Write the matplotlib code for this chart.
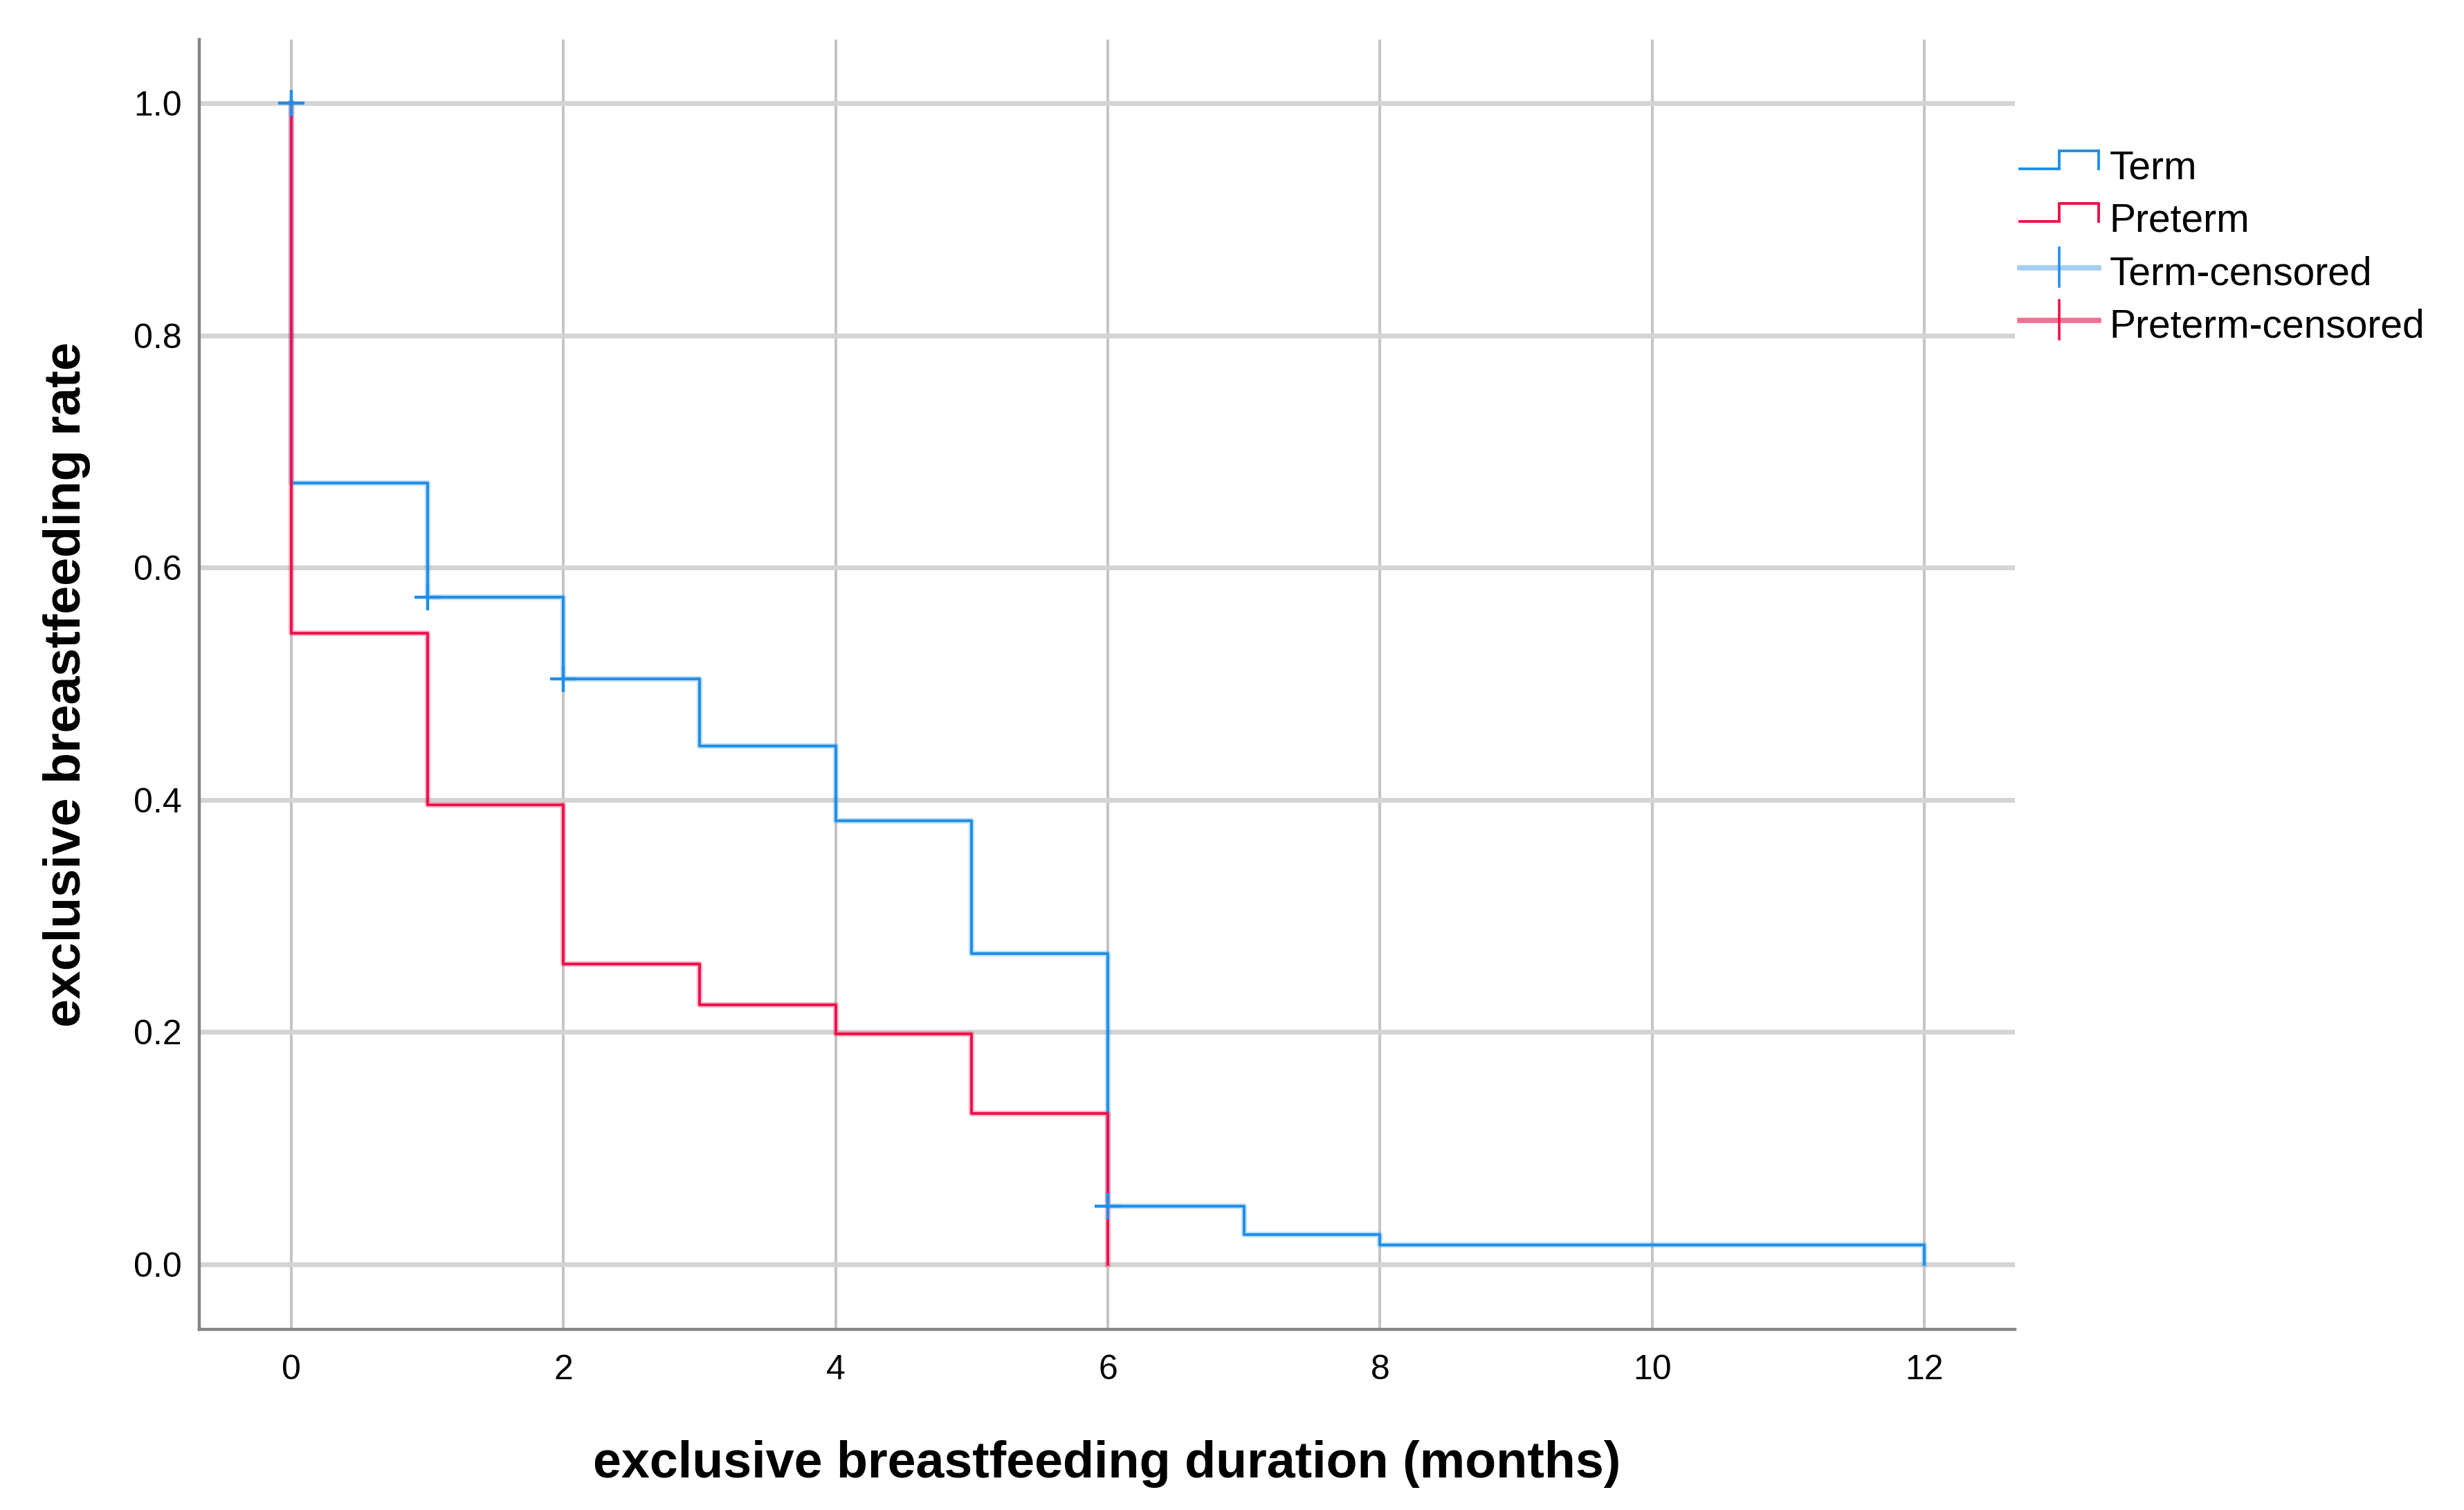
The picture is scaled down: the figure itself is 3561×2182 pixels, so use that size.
import matplotlib
matplotlib.use('Agg')
import matplotlib.pyplot as plt
from matplotlib.lines import Line2D
from matplotlib.legend_handler import HandlerBase

# ---------------- data ----------------
month_ticks = [0, 2, 4, 6, 8, 10, 12]
rate_ticks = [0.0, 0.2, 0.4, 0.6, 0.8, 1.0]

term_time = [0, 0, 1, 2, 3, 4, 5, 6, 7, 8, 12]
term_surv = [1.0, 0.673, 0.5745, 0.5044, 0.4466, 0.3823, 0.2675, 0.0502, 0.0256, 0.017, 0.0]

preterm_time = [0, 0, 1, 2, 3, 4, 5, 6]
preterm_surv = [1.0, 0.5437, 0.396, 0.2588, 0.2236, 0.1987, 0.130, 0.0]

term_cens_time = [0, 1, 2, 6]
term_cens_surv = [1.0, 0.5745, 0.5044, 0.0502]

series_labels = ['Term', 'Preterm', 'Term-censored', 'Preterm-censored']
x_label = 'exclusive breastfeeding duration (months)'
y_label = 'exclusive breastfeeding rate'

BLUE = '#1f8ee8'
RED = '#f0104a'
BLUE_LIGHT = '#a3cdf3'
RED_LIGHT = '#f5708f'

plt.rcParams['font.family'] = ['Liberation Sans', 'DejaVu Sans']

W, H = 3561, 2182
fig = plt.figure(figsize=(W / 100, H / 100), dpi=100)
ax = fig.add_axes([288 / W, 1 - 1921 / H, (2912 - 288) / W, (1921 - 57) / H])

# curves (halo + core)
ax.step(term_time, term_surv, where='post', color=BLUE, lw=6, alpha=0.28, zorder=3)
ax.step(term_time, term_surv, where='post', color=BLUE, lw=2.8, zorder=4)
ax.step(preterm_time, preterm_surv, where='post', color=RED, lw=6, alpha=0.28, zorder=3)
ax.step(preterm_time, preterm_surv, where='post', color=RED, lw=2.8, zorder=5)
ax.plot(term_cens_time, term_cens_surv, ls='none', marker='+', ms=28, mew=3.2,
        color=BLUE, zorder=6)

ax.set_xlim(-0.676, 12.666)
ax.set_ylim(-0.056, 1.055)
ax.set_xticks(month_ticks)
ax.set_yticks(rate_ticks)
ax.set_yticklabels([f'{v:.1f}' for v in rate_ticks])

ax.set_axisbelow(True)
ax.grid(True, axis='y', color='#d4d4d4', lw=5)
ax.grid(True, axis='x', color='#c3c3c3', lw=2.8)
for s in ['top', 'right']:
    ax.spines[s].set_visible(False)
for s in ['left', 'bottom']:
    ax.spines[s].set_color('#858585')
    ax.spines[s].set_linewidth(3.2)

ax.tick_params(axis='both', length=0, labelsize=36, colors='black')
ax.tick_params(axis='x', pad=26)
ax.tick_params(axis='y', pad=18)

ax.set_xlabel(x_label, fontsize=53, fontweight='bold')
ax.set_ylabel(y_label, fontsize=53, fontweight='bold')
ax.xaxis.set_label_coords(0.5, -0.086)
ax.yaxis.set_label_coords(-0.060, 0.5)


# ---------------- legend ----------------
class StepHandler(HandlerBase):
    def create_artists(self, legend, orig_handle, xdescent, ydescent,
                       width, height, fontsize, trans):
        x0 = -xdescent
        x1 = x0 + width
        xm = x0 + width / 2
        y0 = -ydescent
        ylo = y0 + 0.38 * height
        yhi = y0 + 1.02 * height
        ln = Line2D([x0, xm, xm, x1, x1], [ylo, ylo, yhi, yhi, ylo],
                    color=orig_handle.get_color(), lw=2.8, transform=trans,
                    solid_joinstyle='miter')
        return [ln]


class CensorHandler(HandlerBase):
    def __init__(self, light, **kw):
        super().__init__(**kw)
        self.light = light

    def create_artists(self, legend, orig_handle, xdescent, ydescent,
                       width, height, fontsize, trans):
        x0 = -xdescent
        x1 = x0 + width
        xm = x0 + width / 2
        y0 = -ydescent
        ym = y0 + 0.6 * height
        h = Line2D([x0, x1], [ym, ym], color=self.light, lw=5.5, transform=trans)
        v = Line2D([xm, xm], [y0 - 0.07 * height, y0 + 1.33 * height],
                   color=orig_handle.get_color(), lw=2.6, transform=trans)
        return [h, v]


h_term = Line2D([], [], color=BLUE)
h_pre = Line2D([], [], color=RED)
h_tc = Line2D([], [], color=BLUE)
h_pc = Line2D([], [], color=RED)

fig.legend([h_term, h_pre, h_tc, h_pc], series_labels,
           handler_map={h_term: StepHandler(), h_pre: StepHandler(),
                        h_tc: CensorHandler(BLUE_LIGHT), h_pc: CensorHandler(RED_LIGHT)},
           loc='center left', bbox_to_anchor=(2919 / W, 1 - 358 / H),
           bbox_transform=fig.transFigure, frameon=False, fontsize=41,
           handlelength=2.0, handletextpad=0.28, labelspacing=0.39,
           borderpad=0, borderaxespad=0)

fig.savefig('out.png', dpi=100, facecolor='white')
